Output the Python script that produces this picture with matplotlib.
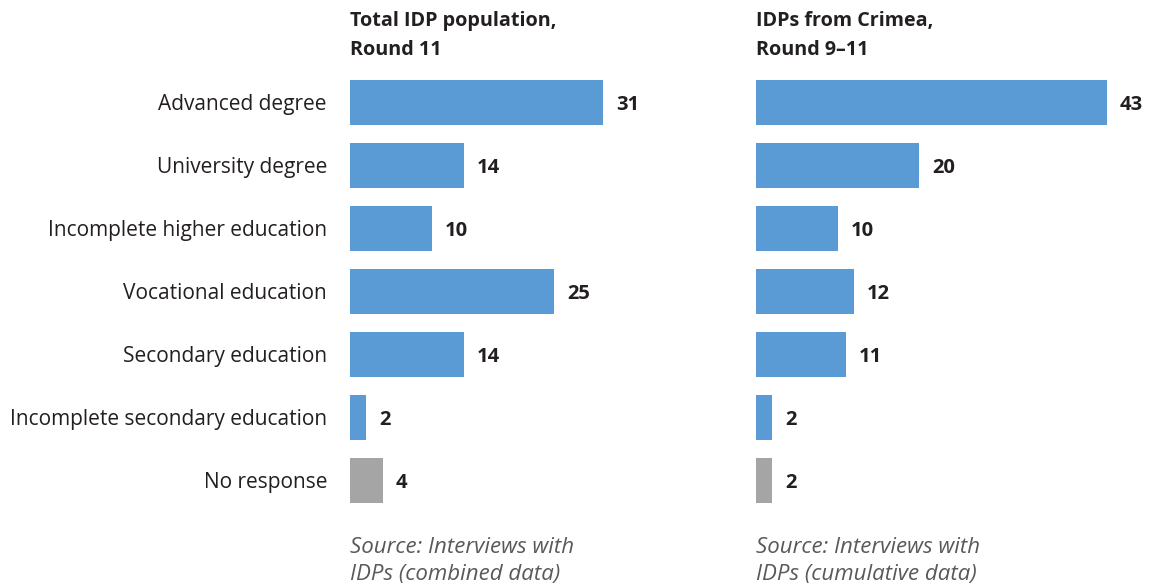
import matplotlib
matplotlib.use("Agg")
import matplotlib.pyplot as plt

plt.rcParams['font.family'] = ['Open Sans', 'DejaVu Sans']

categories = [
    "Advanced degree",
    "University degree",
    "Incomplete higher education",
    "Vocational education",
    "Secondary education",
    "Incomplete secondary education",
    "No response",
]
total_round11 = [31, 14, 10, 25, 14, 2, 4]
crimea_round9_11 = [43, 20, 10, 12, 11, 2, 2]

panel_titles = ["Total IDP population,\nRound 11", "IDPs from Crimea,\nRound 9\u201311"]
panel_sources = ["Source: Interviews with\nIDPs (combined data)",
                 "Source: Interviews with\nIDPs (cumulative data)"]

BLUE = "#5b9bd5"
GREY = "#a5a5a5"
TEXT = "#231f20"
SRC = "#595959"

W, H = 1149, 586
fig = plt.figure(figsize=(W / 100, H / 100), dpi=100)

px_per_unit = 8.16
top_px, bot_px = 71, 512

def make_axes(left_px, width_px):
    ax = fig.add_axes([left_px / W, (H - bot_px) / H, width_px / W, (bot_px - top_px) / H])
    ax.set_xlim(0, width_px / px_per_unit)
    ax.set_ylim(len(categories) - 0.5, -0.5)
    ax.axis("off")
    return ax

panels = [(350, 320, total_round11), (756, 390, crimea_round9_11)]
axes = []
for i, (left_px, width_px, values) in enumerate(panels):
    ax = make_axes(left_px, width_px)
    axes.append(ax)
    colors = [GREY if c == "No response" else BLUE for c in categories]
    ypos = range(len(categories))
    ax.barh(ypos, values, height=0.715, color=colors, linewidth=0)
    for y, v in zip(ypos, values):
        ax.annotate(str(v), xy=(v, y), xytext=(13, -2), textcoords="offset pixels",
                    va="center", ha="left", fontsize=14.5, fontweight="bold", color=TEXT)
    fig.text(left_px / W, 1 - 11 / H, panel_titles[i], ha="left", va="top",
             fontsize=14.2, fontweight="bold", color=TEXT, linespacing=1.58)
    fig.text(left_px / W, 1 - 537 / H, panel_sources[i], ha="left", va="top",
             fontsize=16, style="italic", color=SRC, linespacing=1.4)

# category labels to the left of the first panel
for y, c in enumerate(categories):
    axes[0].annotate(c, xy=(0, y), xytext=(-23, -2), textcoords="offset pixels",
                     ha="right", va="center", fontsize=15, color=TEXT)

fig.savefig("out.png", dpi=100)
